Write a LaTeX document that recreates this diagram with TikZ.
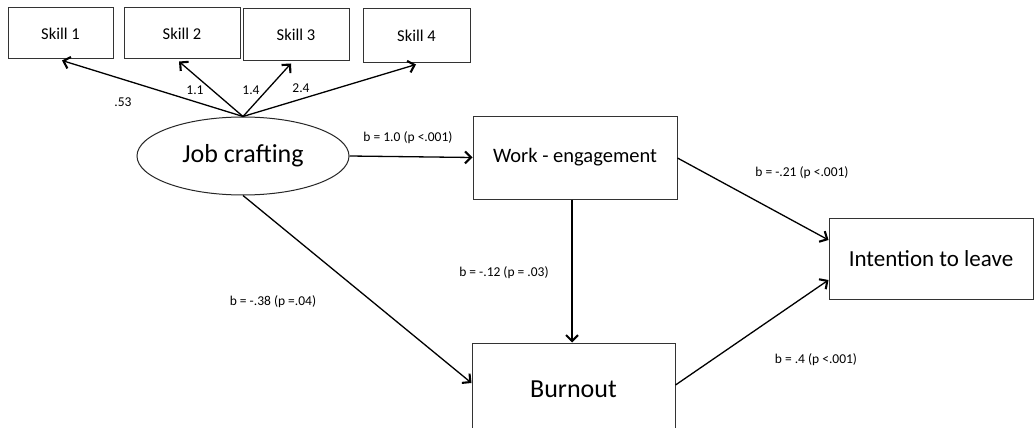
\documentclass[tikz,border=0pt]{standalone}
\usepackage{fontspec}
\setmainfont{Carlito}
\usetikzlibrary{arrows.meta,calc,shapes.geometric}

\tikzset{
  box/.style={draw=black!80, line width=1pt, rectangle, inner sep=0pt},
  skillbox/.style={box, font=\fontsize{16.5}{19}\selectfont},
  bigbox/.style={box, font=\fontsize{21}{25}\selectfont},
  latent/.style={draw=black!85, line width=1pt, ellipse, inner sep=0pt,
    minimum width=212pt, minimum height=78pt, font=\fontsize{26}{30}\selectfont},
  path/.style={line width=1.3pt, -{Straight Barb[length=6pt,width=12pt,line width=2.1pt]}},
  coef/.style={inner sep=0pt, font=\fontsize{13.5}{16}\selectfont},
}

\begin{document}
\begin{tikzpicture}[x=1pt, y=-1pt]
  \clip (0,0) rectangle (1034,428);
  \fill[white] (0,0) rectangle (1034,428);

  % indicators of the latent factor
  \node[skillbox, minimum width=105pt, minimum height=51pt] (s1) at (60.5,33.5) {Skill 1};
  \node[skillbox, minimum width=116pt, minimum height=51pt] (s2) at (182,33.5) {Skill 2};
  \node[skillbox, minimum width=106pt, minimum height=52pt] (s3) at (296,35) {Skill 3};
  \node[skillbox, minimum width=107pt, minimum height=54pt] (s4) at (416.5,36) {Skill 4};

  % latent factor and outcome variables
  \node[latent] (jc) at (243,156) {Job crafting};
  \node[bigbox, minimum width=204pt, minimum height=83pt,
        font=\fontsize{20.5}{24}\selectfont] (we) at (575,157.5) {Work - engagement};
  \node[bigbox, minimum width=203pt, minimum height=92pt,
        font=\fontsize{26}{30}\selectfont] (bo) at (573.5,389) {Burnout};
  \node[bigbox, minimum width=204pt, minimum height=81pt,
        font=\fontsize{23}{27}\selectfont] (il) at (931,258.5) {Intention to leave};

  % factor loadings
  \draw[path] (jc.north) -- ($(s1.south)+(1.5,1)$);
  \draw[path] (jc.north) -- ($(s2.south)+(-3,2)$);
  \draw[path] (jc.north) -- ($(s3.south)+(-5,2)$);
  \draw[path] (jc.north) -- ($(s4.south)+(-0.5,1)$);
  \node[coef] (l1) at (123,102) {.53};
  \node[coef] (l2) at (195,90) {1.1};
  \node[coef] (l3) at (251,90) {1.4};
  \node[coef] (l4) at (301,88) {2.4};

  % structural paths
  \coordinate (vx) at (572,0);
  \draw[path] (jc.east) -- (we.west);
  \draw[path] (we.south -| vx) -- (bo.north -| vx);
  \draw[path] (jc.south) -- ($(bo.west)+(0,-6)$);
  \draw[path] ($(we.east)+(0,0.5)$) -- ($(il.west)+(0,-18.5)$);
  \draw[path] ($(bo.east)+(0,-4)$) -- ($(il.west)+(0,21.5)$);

  \node[coef] (c1) at (408,138) {b = 1.0 (p <.001)};
  \node[coef] (c2) at (504,273) {b = -.12 (p = .03)};
  \node[coef] (c3) at (273,302) {b = -.38 (p =.04)};
  \node[coef] (c4) at (802,173) {b = -.21 (p <.001)};
  \node[coef] (c5) at (816,360) {b = .4 (p <.001)};
\end{tikzpicture}
\end{document}
